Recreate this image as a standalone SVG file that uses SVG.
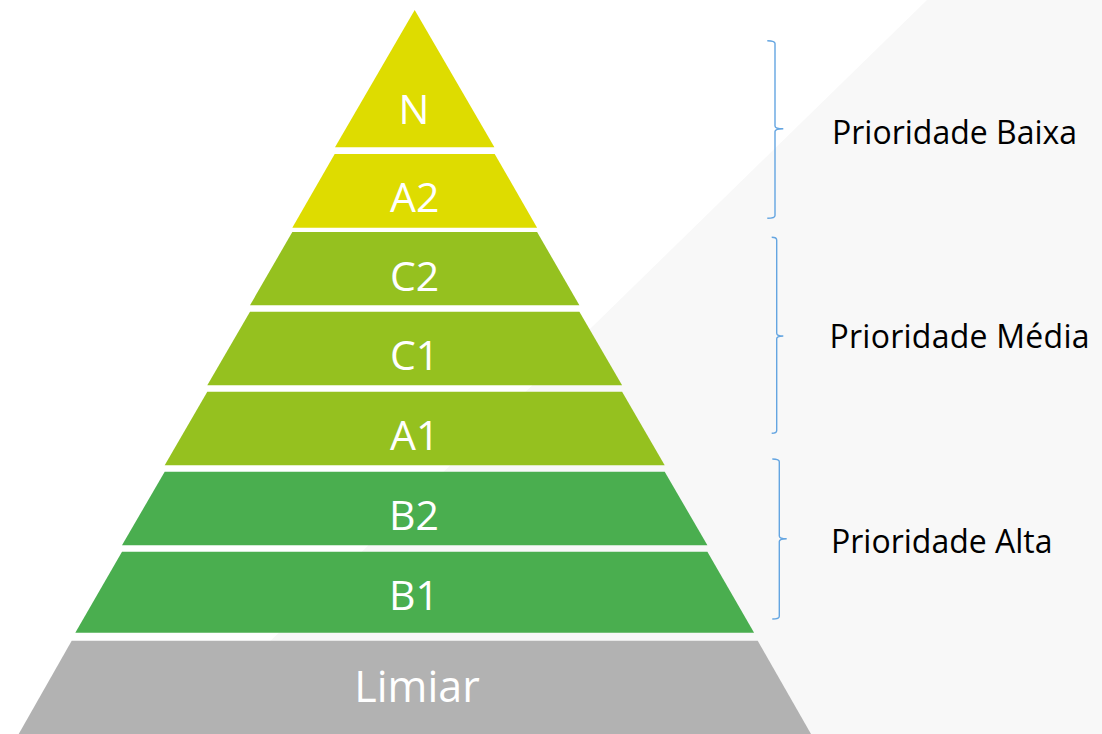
<svg xmlns="http://www.w3.org/2000/svg" width="1102" height="734" viewBox="0 0 1102 734">
<style>
.lbl{font-family:"Open Sans","Noto Sans","DejaVu Sans",sans-serif;fill:#ffffff;text-anchor:middle;font-size:41px}
.big{font-size:43px}
.side{font-family:"Open Sans","Noto Sans","DejaVu Sans",sans-serif;fill:#000000;font-size:32px}
.yel{fill:#dedc00}
.lime{fill:#95c11f}
.grn{fill:#4aae4f}
.gry{fill:#b2b2b2}
.br{fill:none;stroke:#64a5e1;stroke-width:1.4}
</style>
<rect x="0" y="0" width="1102" height="734" fill="#ffffff"/>
<polygon points="927,0 1102,0 1102,734 175,734" fill="#f8f8f8"/>
<g id="node-N">
<polygon class="yel" points="414.7,10 494.4,147.3 335,147.3"/>
<text class="lbl" x="414" y="124">N</text>
</g>
<g id="node-A2">
<polygon class="yel" points="334.7,154 494.7,154 537.1,227.7 292.3,227.7"/>
<text class="lbl" x="414.7" y="212.3">A2</text>
</g>
<g id="node-C2">
<polygon class="lime" points="292.3,232 537.1,232 579.4,305.3 250,305.3"/>
<text class="lbl" x="414.7" y="290.5">C2</text>
</g>
<g id="node-C1">
<polygon class="lime" points="250,311.7 579.4,311.7 622.1,385.3 207.3,385.3"/>
<text class="lbl" x="414.7" y="370">C1</text>
</g>
<g id="node-A1">
<polygon class="lime" points="207.3,391.7 622.1,391.7 664.7,465.3 164.7,465.3"/>
<text class="lbl" x="414.7" y="450">A1</text>
</g>
<g id="node-B2">
<polygon class="grn" points="164.7,471.7 664.7,471.7 707.4,545.3 122,545.3"/>
<text class="lbl" x="414" y="530">B2</text>
</g>
<g id="node-B1">
<polygon class="grn" points="122,551.7 707.4,551.7 754.1,632.7 75.3,632.7"/>
<text class="lbl" x="414" y="609.5">B1</text>
</g>
<g id="node-Limiar">
<polygon class="gry" points="71.7,640.7 757.7,640.7 811,734 18.7,734"/>
<text class="lbl big" x="417" y="701.7">Limiar</text>
</g>
<g id="connectors">
<path class="br" d="M767.3,40.7 Q775,40.7 775,43.5 V126 Q775,128.8 783.3,128.8 Q775,128.8 775,131.6 V215.5 Q775,218.3 767.3,218.3"/>
<path class="br" d="M771.7,237.3 Q776.7,237.3 776.7,240 V333.2 Q776.7,336 783.3,336 Q776.7,336 776.7,338.8 V430.5 Q776.7,433.3 771.7,433.3"/>
<path class="br" d="M772.3,459 Q779.3,459 779.3,461.8 V535.9 Q779.3,538.7 786.7,538.7 Q779.3,538.7 779.3,541.5 V616.2 Q779.3,619 772.3,619"/>
</g>
<g id="node-baixa"><text class="side" x="832" y="144.3">Prioridade Baixa</text></g>
<g id="node-media"><text class="side" x="829.5" y="348.3" textLength="260" lengthAdjust="spacing">Prioridade Média</text></g>
<g id="node-alta"><text class="side" x="831" y="553.3">Prioridade Alta</text></g>
</svg>
